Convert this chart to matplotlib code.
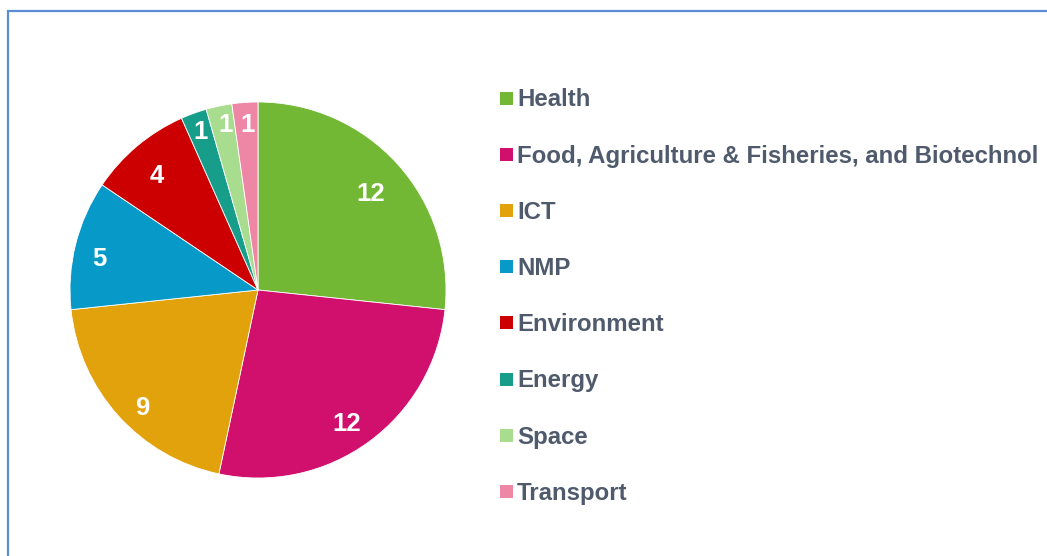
import numpy as np
import matplotlib.pyplot as plt
from matplotlib.patches import Rectangle

labels = ["Health", "Food, Agriculture & Fisheries, and Biotechnol", "ICT", "NMP",
          "Environment", "Energy", "Space", "Transport"]
values = [12, 12, 9, 5, 4, 1, 1, 1]
colors = ["#72b835", "#d10f6d", "#e2a20b", "#0799c7", "#cc0000", "#169e8a", "#a8dc8e", "#ee86a6"]
# label placement inside each slice (distance from centre, angle nudge in degrees)
label_r = [0.79, 0.85, 0.877, 0.863, 0.814, 0.90, 0.90, 0.885]
label_da = [-1.1, -2.2, 3.2, 2.6, 1.3, -0.3, -0.8, -0.4]

plt.rcParams['font.family'] = ['Liberation Sans', 'DejaVu Sans']

W, H = 1047, 556
fig = plt.figure(figsize=(W / 100, H / 100), dpi=100)

# outer frame (only left and top visible)
fig.add_artist(Rectangle((8 / W, -0.1), 1.2, 1 - 11 / H + 0.1, transform=fig.transFigure,
                         fill=False, edgecolor="#5b8cd4", linewidth=1.6))

cx, cy, R = 258, 290, 188
ax = fig.add_axes([(cx - R) / W, (H - cy - R) / H, 2 * R / W, 2 * R / H])
wedges, _ = ax.pie(values, colors=colors, startangle=90, counterclock=False, radius=1,
                   wedgeprops=dict(edgecolor="white", linewidth=0.6))
ax.set_xlim(-1, 1)
ax.set_ylim(-1, 1)
ax.set_aspect("equal")
ax.axis("off")

for w, v, r, da in zip(wedges, values, label_r, label_da):
    ang = np.deg2rad((w.theta1 + w.theta2) / 2 + da)
    ax.text(r * np.cos(ang), r * np.sin(ang) - 0.005, str(v), color="white", fontsize=18.5,
            fontweight="bold", ha="center", va="center")

# legend
y0, dy = 100, 56.2
for i, (lab, c) in enumerate(zip(labels, colors)):
    y = y0 + i * dy
    fig.add_artist(Rectangle((500 / W, (H - y + 2 - 6.5) / H), 13 / W, 13 / H,
                             transform=fig.transFigure, color=c, linewidth=0))
    fig.text(517 / W, (H - y) / H, lab, fontsize=17.3, fontweight="bold",
             color="#4f5a6c", ha="left", va="center")

fig.savefig("out.png", dpi=100)
